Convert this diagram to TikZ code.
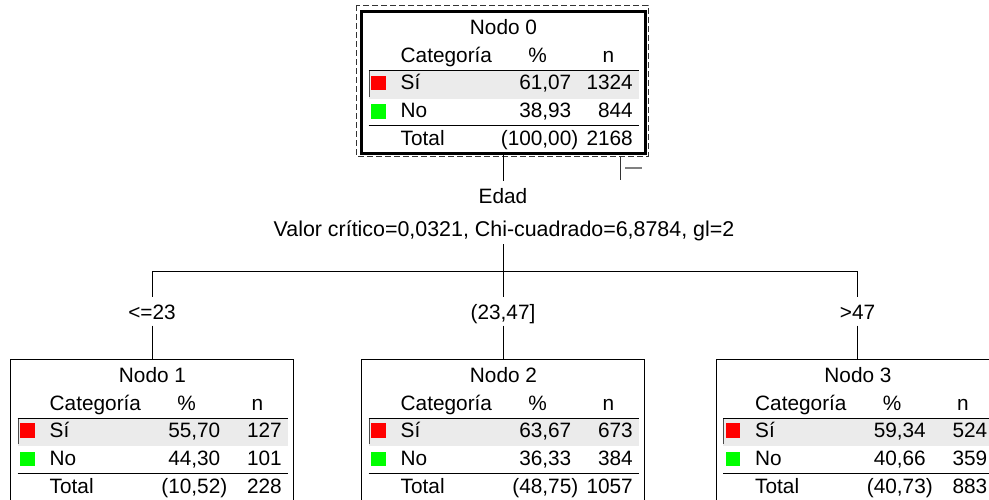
\documentclass[tikz,border=0pt]{standalone}
\usepackage{fontspec}
\setmainfont{Liberation Sans}
\definecolor{rowgray}{HTML}{EBEBEB}
\definecolor{catred}{HTML}{FF0000}
\definecolor{catgreen}{HTML}{00FF00}
\tikzset{
  treebox/.style={draw=black, line width=1pt, minimum width=283pt, minimum height=143pt,
    inner sep=0pt, outer sep=0pt, anchor=north west},
  rootbox/.style={treebox, line width=3pt, minimum width=283.5pt, minimum height=142pt},
  cell/.style={inner sep=0pt},
  rule/.style={draw=black, line width=1pt},
  conn/.style={draw=black, line width=1pt},
  splitlabel/.style={fill=white, inner xsep=3pt, anchor=base},
  edgelabel/.style={fill=white, inner xsep=2pt, inner ysep=6.5pt, text height=15pt,
    text depth=0pt, anchor=base},
}
% Contents of one tree node: title, header, two category rows and the total
% #1 node name, #2 title, #3/#4 Sí pct/n, #5/#6 No pct/n, #7/#8 total pct/n
\newcommand\boxbody[8]{%
  \begin{scope}[shift={(#1.north west)}]
    \fill[rowgray] (7,59) rectangle (277,87);
    \draw[black!70, line width=0.8pt] (7.4,59) -- (7.4,85);
    \draw[rule] (7,59) -- (277,59);
    \draw[rule] (7,114) -- (277,114);
    \fill[catred] (9.5,64) rectangle (24,78.5);
    \fill[catgreen] (9.5,92.5) rectangle (24,107);
    \node[cell, anchor=base] (#1-title) at (142,23) {#2};
    \node[cell, anchor=base west] (#1-cat) at (39,51) {Categoría};
    \node[cell, anchor=base] (#1-pcth) at (176,51) {\%};
    \node[cell, anchor=base] (#1-nh) at (247,51) {n};
    \node[cell, anchor=base west] (#1-si) at (39,78) {Sí};
    \node[cell, anchor=base east] (#1-sip) at (210,78) {#3};
    \node[cell, anchor=base east] (#1-sin) at (271.5,78) {#4};
    \node[cell, anchor=base west] (#1-no) at (39,106) {No};
    \node[cell, anchor=base east] (#1-nop) at (210,106) {#5};
    \node[cell, anchor=base east] (#1-non) at (271.5,106) {#6};
    \node[cell, anchor=base west] (#1-tot) at (39,134) {Total};
    \node[cell, anchor=base east] (#1-totp) at (217,134) {#7};
    \node[cell, anchor=base east] (#1-totn) at (271.5,134) {#8};
  \end{scope}}

\begin{document}
\begin{tikzpicture}[x=1pt, y=-1pt, font=\fontsize{20.8}{25}\selectfont]
\useasboundingbox (0,0) rectangle (989,499);
\clip (0,0) rectangle (989,499);

% root node with its selection frame and collapse handle
\draw[black!80, line width=1pt, dash pattern=on 6pt off 3pt] (356,5) rectangle (648,156);
\node[rootbox] (n0) at (361.5,11.5) {};
\boxbody{n0}{Nodo 0}{61,07}{1324}{38,93}{844}{(100,00)}{2168}
\draw[black!80, line width=1pt] (620,156) -- (620,180);
\draw[gray, line width=2pt] (625,168) -- (642,168);

% child nodes
\node[treebox] (n1) at (10.5,359) {};
\boxbody{n1}{Nodo 1}{55,70}{127}{44,30}{101}{(10,52)}{228}
\node[treebox] (n2) at (361.5,359) {};
\boxbody{n2}{Nodo 2}{63,67}{673}{36,33}{384}{(48,75)}{1057}
\node[treebox] (n3) at (716,359) {};
\boxbody{n3}{Nodo 3}{59,34}{524}{40,66}{359}{(40,73)}{883}

% split variable and statistics
\node[splitlabel, inner ysep=6.8pt] (var) at (503,203) {Edad};
\node[splitlabel, inner ysep=3.6pt, font=\fontsize{21.4}{25}\selectfont] (stat) at (504,236)
  {Valor crítico=0,0321, Chi-cuadrado=6,8784, gl=2};

% branch connectors
\coordinate (split) at (503,271);
\coordinate (h1) at (152,271);
\coordinate (h3) at (857.5,271);
\draw[conn] (var.north |- n0.south) -- (var.north);
\draw[conn] (split |- stat.south) -- (split);
\draw[conn] (h1) -- (h3);

\node[edgelabel] (b1) at (152,319) {<=23};
\node[edgelabel] (b2) at (503,319) {(23,47]};
\node[edgelabel] (b3) at (857.5,319) {>47};

\draw[conn] (h1) -- (b1.north);
\draw[conn] (b1.south) -- (b1.south |- n1.north);
\draw[conn] (split) -- (b2.north);
\draw[conn] (b2.south) -- (b2.south |- n2.north);
\draw[conn] (h3) -- (b3.north);
\draw[conn] (b3.south) -- (b3.south |- n3.north);
\end{tikzpicture}
\end{document}
